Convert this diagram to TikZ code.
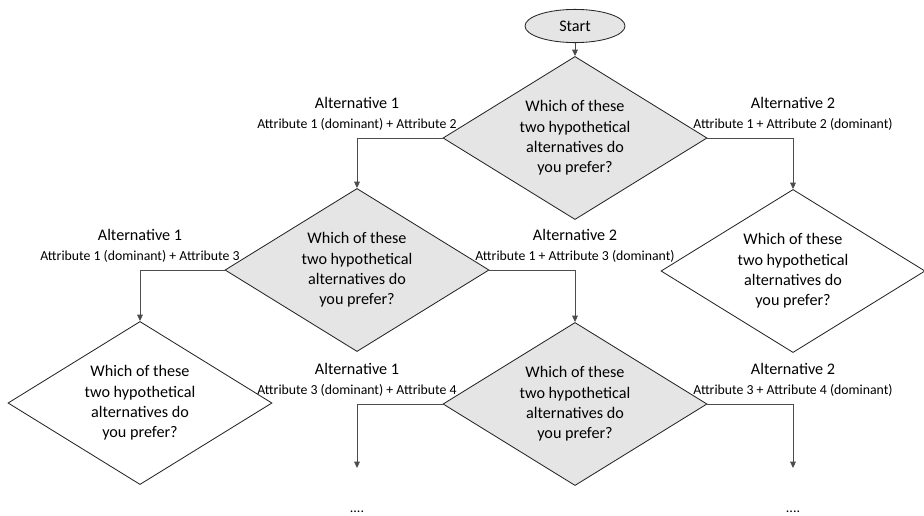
\documentclass[tikz,border=0pt]{standalone}
\usepackage{fontspec}
\setmainfont{Carlito}
\usetikzlibrary{shapes.geometric}
\usetikzlibrary{arrows.meta}
\usetikzlibrary{math}

\newcommand{\attrline}[1]{{\fontsize{9.8}{12}\selectfont #1}}

\tikzset{
    question/.style={diamond, draw=black!85, line width=0.6pt, inner sep=-4pt,
        minimum width=6.6cm, minimum height=3.3cm, align=center,
        font=\fontsize{11.5}{14.5}\selectfont},
    asked/.style={question, fill=gray!20},
    link/.style={draw=black!70, line width=0.6pt, -{Triangle[length=4.5pt,width=4pt]}},
    choice/.style={align=center, inner sep=0pt, above=5pt,
        font=\fontsize{11.5}{14}\selectfont},
}

\begin{document}
\begin{tikzpicture}[x=0.025cm, y=-0.025cm]

% Position settings (pixels, y downwards)
\tikzmath{
    \XLeft = 140;
    \XMid = 357;
    \XCentre = 575;
    \XRight = 793;
    \YEnd = 468;
}

\useasboundingbox (0,0) rectangle (924,515);

% Draws start and questions
\node [ellipse, draw=black!85, line width=0.6pt, fill=gray!20, inner sep=0pt,
    minimum width=2.5cm, minimum height=0.83cm, font=\fontsize{11.5}{14}\selectfont]
    (start) at (\XCentre,26) {Start};
\node [asked] (q1) at (\XCentre,138) {Which of these\\two hypothetical\\alternatives do\\you prefer?};
\node [asked] (q2) at (\XMid,270) {Which of these\\two hypothetical\\alternatives do\\you prefer?};
\node [question] (q3) at (\XRight,271) {Which of these\\two hypothetical\\alternatives do\\you prefer?};
\node [question] (q4) at (\XLeft,403) {Which of these\\two hypothetical\\alternatives do\\you prefer?};
\node [asked] (q5) at (\XCentre,404) {Which of these\\two hypothetical\\alternatives do\\you prefer?};

% Open ends
\coordinate (end1) at (\XMid,\YEnd);
\coordinate (end2) at (\XRight,\YEnd);
\node [anchor=base, inner sep=0pt] (more1) at (\XMid,512) {....};
\node [anchor=base, inner sep=0pt] (more2) at (\XRight,512) {....};

% Draws connectors
\draw [link] (start) -- (q1);
\draw [link] (q1.west) -| node [choice] {Alternative 1\\\attrline{Attribute 1 (dominant) + Attribute 2}} (q2.north);
\draw [link] (q1.east) -| node [choice] {Alternative 2\\\attrline{Attribute 1 + Attribute 2 (dominant)}} (q3.north);
\draw [link] (q2.west) -| node [choice] {Alternative 1\\\attrline{Attribute 1 (dominant) + Attribute 3}} (q4.north);
\draw [link] (q2.east) -| node [choice] {Alternative 2\\\attrline{Attribute 1 + Attribute 3 (dominant)}} (q5.north);
\draw [link] (q5.west) -| node [choice] {Alternative 1\\\attrline{Attribute 3 (dominant) + Attribute 4}} (end1);
\draw [link] (q5.east) -| node [choice] {Alternative 2\\\attrline{Attribute 3 + Attribute 4 (dominant)}} (end2);

\end{tikzpicture}
\end{document}
